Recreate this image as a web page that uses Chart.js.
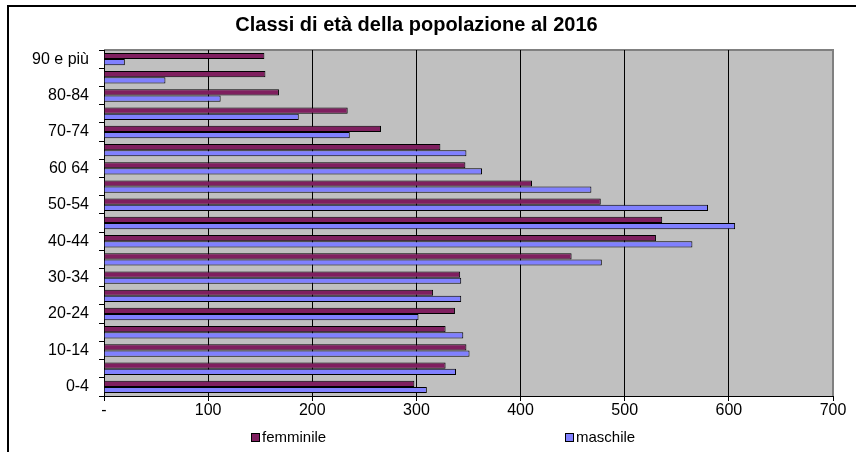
<!DOCTYPE html>
<html>
<head>
<meta charset="utf-8">
<script src="https://cdn.jsdelivr.net/npm/chart.js@4/dist/chart.umd.min.js"></script>
<style>
  body { margin: 0; background: #fff; }
  #wrap { position: relative; width: 856px; height: 452px; }
  #frame { position: absolute; left: 7px; top: 5px; right: 0; bottom: 0; border-top: 2px solid #000; border-left: 2px solid #000; pointer-events: none; }
</style>
</head>
<body>
<div id="wrap">
  <canvas id="chart" width="856" height="452"></canvas>
  <div id="frame"></div>
</div>
<script>
// classi di età, dal basso verso l'alto
const classi = ["0-4", "5-9", "10-14", "15-19", "20-24", "25-29", "30-34", "35-39", "40-44", "45-49",
  "50-54", "55-59", "60 64", "65-69", "70-74", "75-79", "80-84", "85-89", "90 e più"];
const femminile = [298, 328, 348, 328, 337, 316, 342, 449, 530, 536, 477, 411, 347, 323, 266, 234, 168, 155, 154];
const maschile = [310, 338, 351, 345, 302, 343, 343, 478, 565, 606, 580, 468, 363, 348, 236, 187, 112, 59, 20];
const xTicks = [0, 100, 200, 300, 400, 500, 600, 700];

const FONT = "'Liberation Sans', Arial, sans-serif";
const colors = { femminile: "#7f1f5f", maschile: "#8080ff" };

// the category axis runs top-down, so flip everything
const labels = classi.slice().reverse();

const plotBg = {
  id: "plotBg",
  beforeDraw(chart) {
    const { ctx, chartArea: a } = chart;
    ctx.save();
    ctx.fillStyle = "#c0c0c0";
    ctx.fillRect(a.left, a.top, a.right - a.left, a.bottom - a.top);
    ctx.strokeStyle = "#808080";
    ctx.lineWidth = 2;
    ctx.beginPath();
    ctx.moveTo(a.left, a.top);
    ctx.lineTo(a.right, a.top);
    ctx.lineTo(a.right, a.bottom);
    ctx.stroke();
    ctx.restore();
  }
};

const bottomLegend = {
  id: "bottomLegend",
  afterDraw(chart) {
    const { ctx } = chart;
    const xs = [251, 565];
    ctx.save();
    ctx.font = "15px " + FONT;
    ctx.textBaseline = "middle";
    chart.data.datasets.forEach((ds, i) => {
      const x = xs[i], y = 437;
      ctx.fillStyle = ds.backgroundColor;
      ctx.fillRect(x, y - 4, 9, 9);
      ctx.strokeStyle = "#000";
      ctx.lineWidth = 1;
      ctx.strokeRect(x + 0.5, y - 3.5, 8, 8);
      ctx.fillStyle = "#000";
      ctx.fillText(ds.label, x + 11, y + 1);
    });
    ctx.restore();
  }
};

new Chart(document.getElementById("chart"), {
  type: "bar",
  data: {
    labels: labels,
    datasets: [
      { label: "femminile", data: femminile.slice().reverse(), backgroundColor: colors.femminile },
      { label: "maschile", data: maschile.slice().reverse(), backgroundColor: colors.maschile }
    ]
  },
  options: {
    indexAxis: "y",
    responsive: false,
    animation: false,
    layout: { padding: { left: 0, right: 23, top: 0, bottom: 30 } },
    datasets: {
      bar: { categoryPercentage: 0.68, barPercentage: 1, borderColor: "#000", borderWidth: 1 }
    },
    plugins: {
      legend: { display: false },
      tooltip: { enabled: false },
      title: {
        display: true,
        text: "Classi di età della popolazione al 2016",
        color: "#000",
        font: { family: FONT, size: 20, weight: "bold" },
        padding: { top: 13, bottom: 13 }
      }
    },
    scales: {
      x: {
        min: 0, max: 700,
        afterBuildTicks(scale) { scale.ticks = xTicks.map(v => ({ value: v })); },
        afterFit(scale) { scale.height = 26; },
        border: { color: "#000", width: 1 },
        grid: {
          color: ctx => (ctx.tick && ctx.tick.value === 700) ? "rgba(0,0,0,0)" : "#000",
          tickColor: "#000",
          tickLength: 5,
          lineWidth: 1
        },
        ticks: {
          color: "#000",
          padding: 0,
          font: { family: FONT, size: 16 },
          callback: v => v === 0 ? "-" : v
        }
      },
      y: {
        afterFit(scale) { scale.width = 104; },
        border: { color: "#000", width: 1 },
        grid: { offset: true, drawOnChartArea: false, tickColor: "#000", tickLength: 5 },
        ticks: {
          autoSkip: false,
          color: "#000",
          padding: 10,
          font: { family: FONT, size: 16 },
          callback: (v, i) => i % 2 === 0 ? labels[i] : ""
        }
      }
    }
  },
  plugins: [plotBg, bottomLegend]
});
</script>
</body>
</html>
